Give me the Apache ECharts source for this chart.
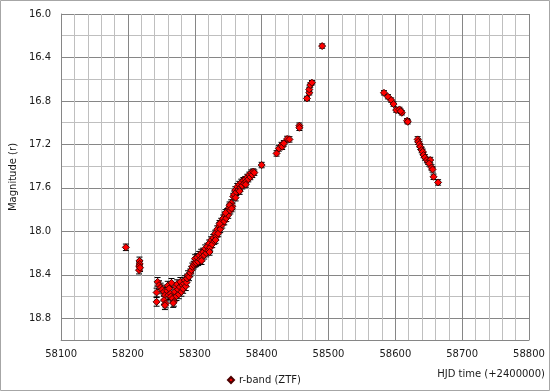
<!DOCTYPE html>
<html>
<head>
<meta charset="utf-8">
<script src="https://cdn.jsdelivr.net/npm/echarts@6/dist/echarts.min.js"></script>
<style>html,body{margin:0;padding:0;background:#fff;}#c{width:550px;height:391px;}</style>
</head>
<body>
<div id="c"></div>
<script>
// Observations: [HJD-2400000, r magnitude, error]
const season1 = [
  [58196.8,18.147,0.03],[58217.2,18.272,0.035],[58217.5,18.300,0.035],[58216.8,18.320,0.035],
  [58216.5,18.357,0.035],[58218.0,18.335,0.035]
];
const faintCluster = [
  [58242.8,18.563,0.04],[58242.8,18.649,0.04],[58244.3,18.465,0.04],[58246.4,18.495,0.04],
  [58248.8,18.517,0.04],[58251.3,18.535,0.04],[58253.8,18.557,0.04],[58255.3,18.587,0.04],
  [58253.8,18.633,0.04],[58256.2,18.664,0.04],[58255.3,18.680,0.04],[58258.7,18.548,0.04],
  [58259.5,18.500,0.04],[58260.2,18.587,0.04],[58261.6,18.526,0.04],[58263.6,18.572,0.04],
  [58264.0,18.600,0.04],[58265.1,18.474,0.04],[58266.6,18.618,0.04],[58268.6,18.649,0.04],
  [58267.6,18.660,0.04],[58270.1,18.557,0.04],[58271.6,18.511,0.04],[58272.5,18.597,0.04],
  [58273.5,18.486,0.04],[58275.0,18.535,0.04],[58276.0,18.580,0.04],[58277.5,18.511,0.04],
  [58278.4,18.465,0.04],[58279.9,18.557,0.04],[58281.4,18.495,0.04],[58282.5,18.530,0.04],
  [58283.4,18.480,0.04],[58284.9,18.449,0.04],[58286.4,18.505,0.04],[58287.5,18.470,0.04],
  [58288.3,18.434,0.04],[58289.8,18.403,0.04],[58291.3,18.419,0.035],[58293.2,18.382,0.035],
  [58294.7,18.357,0.035],[58296.2,18.327,0.035],[58298.3,18.311,0.035],[58299.8,18.296,0.035],
  [58301.2,18.281,0.035],[58304.7,18.272,0.035]
];
const riseBand = [
  [58300.5,18.25,0.035],[58302.0,18.29,0.035],[58303.5,18.24,0.035],[58305.0,18.28,0.035],
  [58306.5,18.22,0.035],[58308.0,18.26,0.035],[58309.5,18.20,0.035],[58311.0,18.24,0.035],
  [58312.5,18.19,0.035],[58314.0,18.22,0.035],[58315.5,18.16,0.035],[58317.0,18.20,0.035],
  [58318.5,18.14,0.03],[58320.0,18.18,0.03],[58321.5,18.11,0.03],[58323.0,18.15,0.03],
  [58324.5,18.08,0.03],[58326.0,18.12,0.03],[58327.5,18.06,0.03],[58329.0,18.09,0.03],
  [58330.5,18.02,0.03],[58332.0,18.05,0.03],[58333.5,17.98,0.03],[58335.0,18.02,0.03],
  [58336.5,17.95,0.03],[58338.0,17.98,0.03],[58339.5,17.91,0.03],[58341.0,17.94,0.03],
  [58342.5,17.88,0.03],[58344.0,17.91,0.03],[58345.5,17.85,0.03],[58347.0,17.88,0.03],
  [58348.5,17.82,0.03],[58350.0,17.85,0.03],[58351.5,17.78,0.03],[58353.0,17.81,0.03],
  [58354.5,17.74,0.03],[58356.0,17.77,0.03],[58357.5,17.68,0.03],[58359.0,17.66,0.03],
  [58360.5,17.62,0.03],[58362.0,17.64,0.03],[58363.5,17.59,0.03],[58365.0,17.62,0.03],
  [58366.5,17.57,0.03],[58368.0,17.60,0.03],[58369.5,17.55,0.03],[58371.0,17.58,0.03],
  [58372.5,17.53,0.025],[58374.0,17.56,0.025],[58375.5,17.52,0.025],[58377.0,17.54,0.025],
  [58378.5,17.50,0.025],[58380.0,17.52,0.025],[58381.5,17.48,0.025],[58383.0,17.50,0.025],
  [58384.5,17.46,0.025],[58386.0,17.48,0.025],[58387.5,17.45,0.025],[58389.0,17.46,0.025],
  [58310.0,18.27,0.035],[58322.0,18.19,0.03],[58331.0,18.08,0.03],[58337.0,17.93,0.03],
  [58346.0,17.83,0.03],[58352.0,17.76,0.03],[58355.0,17.79,0.03],[58361.0,17.69,0.03],
  [58367.0,17.63,0.03],[58376.0,17.57,0.025]
];
const peak1 = [
  [58400.0,17.390,0.025],[58422.3,17.283,0.025],[58425.8,17.237,0.025],[58429.7,17.206,0.025],
  [58430.7,17.222,0.025],[58433.2,17.190,0.025],[58438.1,17.150,0.025],[58441.6,17.154,0.025],
  [58456.4,17.028,0.025],[58456.4,17.047,0.025],[58467.8,16.777,0.02],[58471.2,16.725,0.02],
  [58471.2,16.694,0.02],[58472.7,16.654,0.02],[58475.2,16.632,0.02],[58490.5,16.295,0.02]
];
const season2 = [
  [58583.0,16.725,0.02],[58588.9,16.761,0.02],[58593.8,16.792,0.02],[58597.3,16.829,0.02],
  [58601.3,16.884,0.02],[58606.2,16.878,0.02],[58609.7,16.909,0.02],[58608.0,16.895,0.02],
  [58617.6,16.982,0.02],[58618.6,16.992,0.02],[58633.4,17.154,0.025],[58634.3,17.176,0.025],
  [58635.8,17.197,0.025],[58637.3,17.222,0.025],[58639.4,17.252,0.025],[58640.9,17.268,0.025],
  [58642.3,17.298,0.025],[58644.3,17.320,0.025],[58647.2,17.344,0.025],[58649.2,17.360,0.025],
  [58652.2,17.344,0.025],[58650.7,17.375,0.025],[58654.2,17.412,0.025],[58655.7,17.430,0.025],
  [58657.2,17.498,0.025],[58664.0,17.550,0.025]
];
const seriesName = 'r-band (ZTF)';
const xTitle = 'HJD time (+2400000)';
const yTitle = 'Magnitude (r)';

const allPts = season1.concat(faintCluster, riseBand, peak1, season2);
const font = 'DejaVu Sans';
const chart = echarts.init(document.getElementById('c'), null, {renderer: 'canvas'});
chart.setOption({
  animation: false,
  backgroundColor: '#ffffff',
  grid: {left: 57, right: 21, top: 14, bottom: 51, containLabel: false},
  xAxis: {
    type: 'value', min: 58100, max: 58800, interval: 20,
    axisLine: {show: true, onZero: false, lineStyle: {color: '#868686', width: 1}},
    axisTick: {show: false},
    axisLabel: {
      color: '#1a1a1a', fontFamily: font, fontSize: 10, margin: 9,
      formatter: v => (Math.round(v) % 100 === 0 ? String(Math.round(v)) : '')
    },
    splitLine: {show: true, lineStyle: {color: ['#868686','#bfbfbf','#bfbfbf','#bfbfbf','#bfbfbf'], width: 1}}
  },
  yAxis: {
    type: 'value', inverse: true, min: 16.0, max: 19.0, interval: 0.2,
    name: yTitle, nameLocation: 'middle', nameGap: 42, nameRotate: 90,
    nameTextStyle: {color: '#1a1a1a', fontFamily: font, fontSize: 10},
    axisLine: {show: true, onZero: false, lineStyle: {color: '#868686', width: 1}},
    axisTick: {show: false},
    axisLabel: {
      color: '#1a1a1a', fontFamily: font, fontSize: 10, margin: 10,
      formatter: v => {
        const k = Math.round(v * 10);
        return (k % 4 === 0 && k < 190) ? (k / 10).toFixed(1) : '';
      }
    },
    splitLine: {show: true, lineStyle: {color: ['#868686','#bfbfbf'], width: 1}}
  },
  legend: {
    show: true, left: 222, top: 370, itemWidth: 6, itemHeight: 6, itemGap: 4,
    icon: 'diamond', data: [seriesName],
    textStyle: {color: '#1a1a1a', fontFamily: font, fontSize: 10}
  },
  graphic: [
    {type: 'text', right: 5, top: 369, style: {text: xTitle, fill: '#1a1a1a', font: '10px "DejaVu Sans"'}},
    {type: 'rect', shape: {x: 0.5, y: 0.5, width: 549, height: 390}, style: {fill: 'none', stroke: '#a6a6a6', lineWidth: 1}, silent: true}
  ],
  series: [
    {
      type: 'custom', name: 'err', z: 2, silent: true,
      data: allPts,
      renderItem: function (params, api) {
        const x = api.value(0), m = api.value(1), e = api.value(2);
        const top = api.coord([x, m - e]);
        const bot = api.coord([x, m + e]);
        const cw = 3;
        return {
          type: 'group',
          children: [
            {type: 'line', shape: {x1: top[0], y1: top[1], x2: bot[0], y2: bot[1]}, style: {stroke: '#000', lineWidth: 1}},
            {type: 'line', shape: {x1: top[0]-cw, y1: top[1], x2: top[0]+cw, y2: top[1]}, style: {stroke: '#000', lineWidth: 1}},
            {type: 'line', shape: {x1: bot[0]-cw, y1: bot[1], x2: bot[0]+cw, y2: bot[1]}, style: {stroke: '#000', lineWidth: 1}}
          ]
        };
      }
    },
    {
      type: 'scatter', name: seriesName, z: 3,
      symbol: 'diamond', symbolSize: 7,
      itemStyle: {color: '#ff0000', borderColor: '#4a0000', borderWidth: 1, opacity: 1},
      data: allPts.map(p => [p[0], p[1]])
    }
  ]
});
</script>
</body>
</html>
